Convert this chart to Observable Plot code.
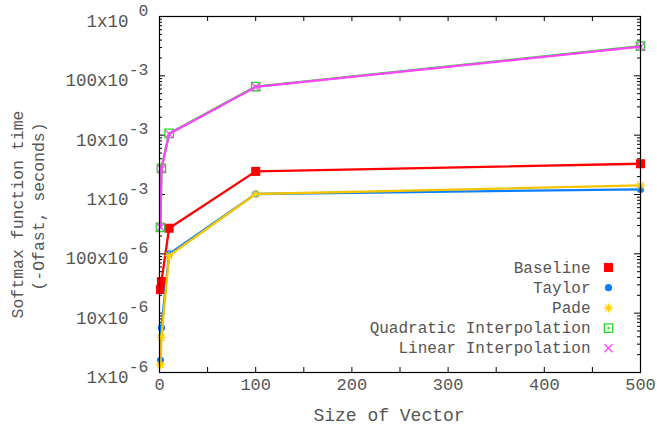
<!DOCTYPE html>
<html><head><meta charset="utf-8">
<script src="https://cdn.jsdelivr.net/npm/d3@7"></script>
<script src="https://cdn.jsdelivr.net/npm/@observablehq/plot@0.6"></script>
<style>body{margin:0;background:#fff;} svg text{font-family:"Liberation Mono","Courier New",Courier,monospace;}</style>
</head><body><div id="chart"></div>
<script>
// ---- data ----
const sizes = [1, 2, 10, 100, 500];
const baseline  = [2.5e-5, 3.4e-5, 2.7e-4, 2.45e-3, 3.3e-3];
const taylor    = [1.6e-6, 5.7e-6, 1.0e-4, 1.02e-3, 1.22e-3];
const pade      = [1.35e-6, 3.9e-6, 9.3e-5, 1.02e-3, 1.42e-3];
const quadratic = [2.8e-4, 2.75e-3, 1.07e-2, 6.6e-2, 0.316];
const linear    = [2.8e-4, 2.7e-3, 1.05e-2, 6.5e-2, 0.31];
const seriesNames = ["Baseline", "Taylor", "Pade", "Quadratic Interpolation", "Linear Interpolation"];
const xTicks = [0, 100, 200, 300, 400, 500];
const xMinorTicks = [0, 50, 100, 150, 200, 250, 300, 350, 400, 450, 500];
const yTicks = [1e-6, 1e-5, 1e-4, 1e-3, 1e-2, 1e-1, 1];
const yTickBase = ["1x10", "10x10", "100x10", "1x10", "10x10", "100x10", "1x10"];
const yTickExp = ["-6", "-6", "-6", "-3", "-3", "-3", "0"];

// ---- styling ----
const W = 481, H = 356;
const FONT = "Liberation Mono";
const colors = ["#ff0000", "#0a80ff", "#f5c400", "#22dd22", "#ff44ff"];
const markerColors = ["#ff0000", "#0a80ff", "#ffd000", "#22dd22", "#ff44ff"];
const textColor = "#555555";

const starSym = {draw(ctx, size) {
  const r = Math.sqrt(size / Math.PI), d = r * 0.72;
  ctx.moveTo(-r, 0); ctx.lineTo(r, 0); ctx.moveTo(0, -r); ctx.lineTo(0, r);
  ctx.moveTo(-d, -d); ctx.lineTo(d, d); ctx.moveTo(-d, d); ctx.lineTo(d, -d);
}};
const boxDotSym = {draw(ctx, size) {
  const r = Math.sqrt(size / Math.PI);
  ctx.moveTo(-r, -r); ctx.lineTo(r, -r); ctx.lineTo(r, r); ctx.lineTo(-r, r); ctx.closePath();
  ctx.moveTo(-0.4, -0.4); ctx.lineTo(0.4, -0.4); ctx.lineTo(0.4, 0.4); ctx.lineTo(-0.4, 0.4); ctx.closePath();
}};
const timesSym = {draw(ctx, size) {
  const r = Math.sqrt(size / Math.PI);
  ctx.moveTo(-r, -r); ctx.lineTo(r, r); ctx.moveTo(-r, r); ctx.lineTo(r, -r);
}};
const markerStyles = [
  {symbol: "square", r: 5.1, fill: markerColors[0], stroke: "none"},
  {symbol: "circle", r: 3.6, fill: markerColors[1], stroke: "none"},
  {symbol: starSym, r: 4.5, fill: "none", stroke: markerColors[2], strokeWidth: 1.3},
  {symbol: boxDotSym, r: 4.2, fill: "none", stroke: markerColors[3], strokeWidth: 1.3},
  {symbol: timesSym, r: 4, fill: "none", stroke: markerColors[4], strokeWidth: 1.3}
];

const allSeries = [baseline, taylor, pade, quadratic, linear];
const marks = [];

// ticks (inward, mirrored)
const yMinor = d3.scaleLog().domain([1e-6, 1]).ticks().filter(v => !yTicks.some(t => Math.abs(t - v) / t < 1e-9));
marks.push(Plot.tickY(yTicks, {y: d => d, stroke: "black", insetRight: W - 6}));
marks.push(Plot.tickY(yMinor, {y: d => d, stroke: "black", insetRight: W - 3}));
marks.push(Plot.tickY(yTicks, {y: d => d, stroke: "black", insetLeft: W - 6}));
marks.push(Plot.tickY(yMinor, {y: d => d, stroke: "black", insetLeft: W - 3}));
marks.push(Plot.tickX(xMinorTicks, {x: d => d, stroke: "black", insetTop: H - 5}));
marks.push(Plot.tickX(xMinorTicks, {x: d => d, stroke: "black", insetBottom: H - 5}));

// series
allSeries.forEach((vals, s) => {
  const data = sizes.map((x, i) => ({x, y: vals[i], series: seriesNames[s]}));
  marks.push(Plot.line(data, {x: "x", y: "y", stroke: colors[s], strokeWidth: 2.3}));
  marks.push(Plot.dot(data, {x: "x", y: "y", ...markerStyles[s]}));
});

marks.push(Plot.frame({stroke: "black", strokeWidth: 1.2}));

const T = {fontFamily: FONT, fill: textColor, fontWeight: "normal"};

// tick labels
marks.push(Plot.text(xTicks, {x: d => d, frameAnchor: "bottom", dy: 12, text: d => String(d),
  fontSize: 17, lineAnchor: "middle", textAnchor: "middle", ...T}));
const yLab = yTicks.map((v, i) => ({v, base: yTickBase[i], exp: yTickExp[i]}));
marks.push(Plot.text(yLab, {y: "v", frameAnchor: "left", dx: -31, dy: 5, text: "base",
  textAnchor: "end", lineAnchor: "middle", fontSize: 17.5, ...T}));
marks.push(Plot.text(yLab, {y: "v", frameAnchor: "left", dx: -11, dy: -6, text: "exp",
  textAnchor: "end", lineAnchor: "middle", fontSize: 16.5, ...T}));

// axis titles
marks.push(Plot.text(["Size of Vector"], {frameAnchor: "bottom", dx: -11, dy: 43, fontSize: 18,
  lineAnchor: "middle", textAnchor: "middle", ...T}));
marks.push(Plot.text(["Softmax function time"], {frameAnchor: "left", dx: -142, dy: 20, rotate: -90,
  fontSize: 16.5, lineAnchor: "middle", textAnchor: "middle", ...T}));
marks.push(Plot.text(["(-Ofast, seconds)"], {frameAnchor: "left", dx: -121, dy: 12, rotate: -90,
  fontSize: 16.5, lineAnchor: "middle", textAnchor: "middle", ...T}));

// legend
seriesNames.forEach((name, s) => {
  const dy = 251 + 20.2 * s;
  marks.push(Plot.text([name], {frameAnchor: "top-right", dx: -50, dy, textAnchor: "end",
    lineAnchor: "middle", fontSize: 16, ...T}));
  marks.push(Plot.dot([name], {frameAnchor: "top-right", dx: -32, dy, ...markerStyles[s]}));
});

const chart = Plot.plot({
  width: 657, height: 428,
  marginLeft: 159, marginRight: 17, marginTop: 16, marginBottom: 56,
  style: {fontFamily: FONT, background: "white"},
  x: {domain: [0, 500], axis: null},
  y: {type: "log", domain: [1e-6, 1], axis: null},
  marks
});
document.getElementById("chart").appendChild(chart);
</script>
</body></html>
